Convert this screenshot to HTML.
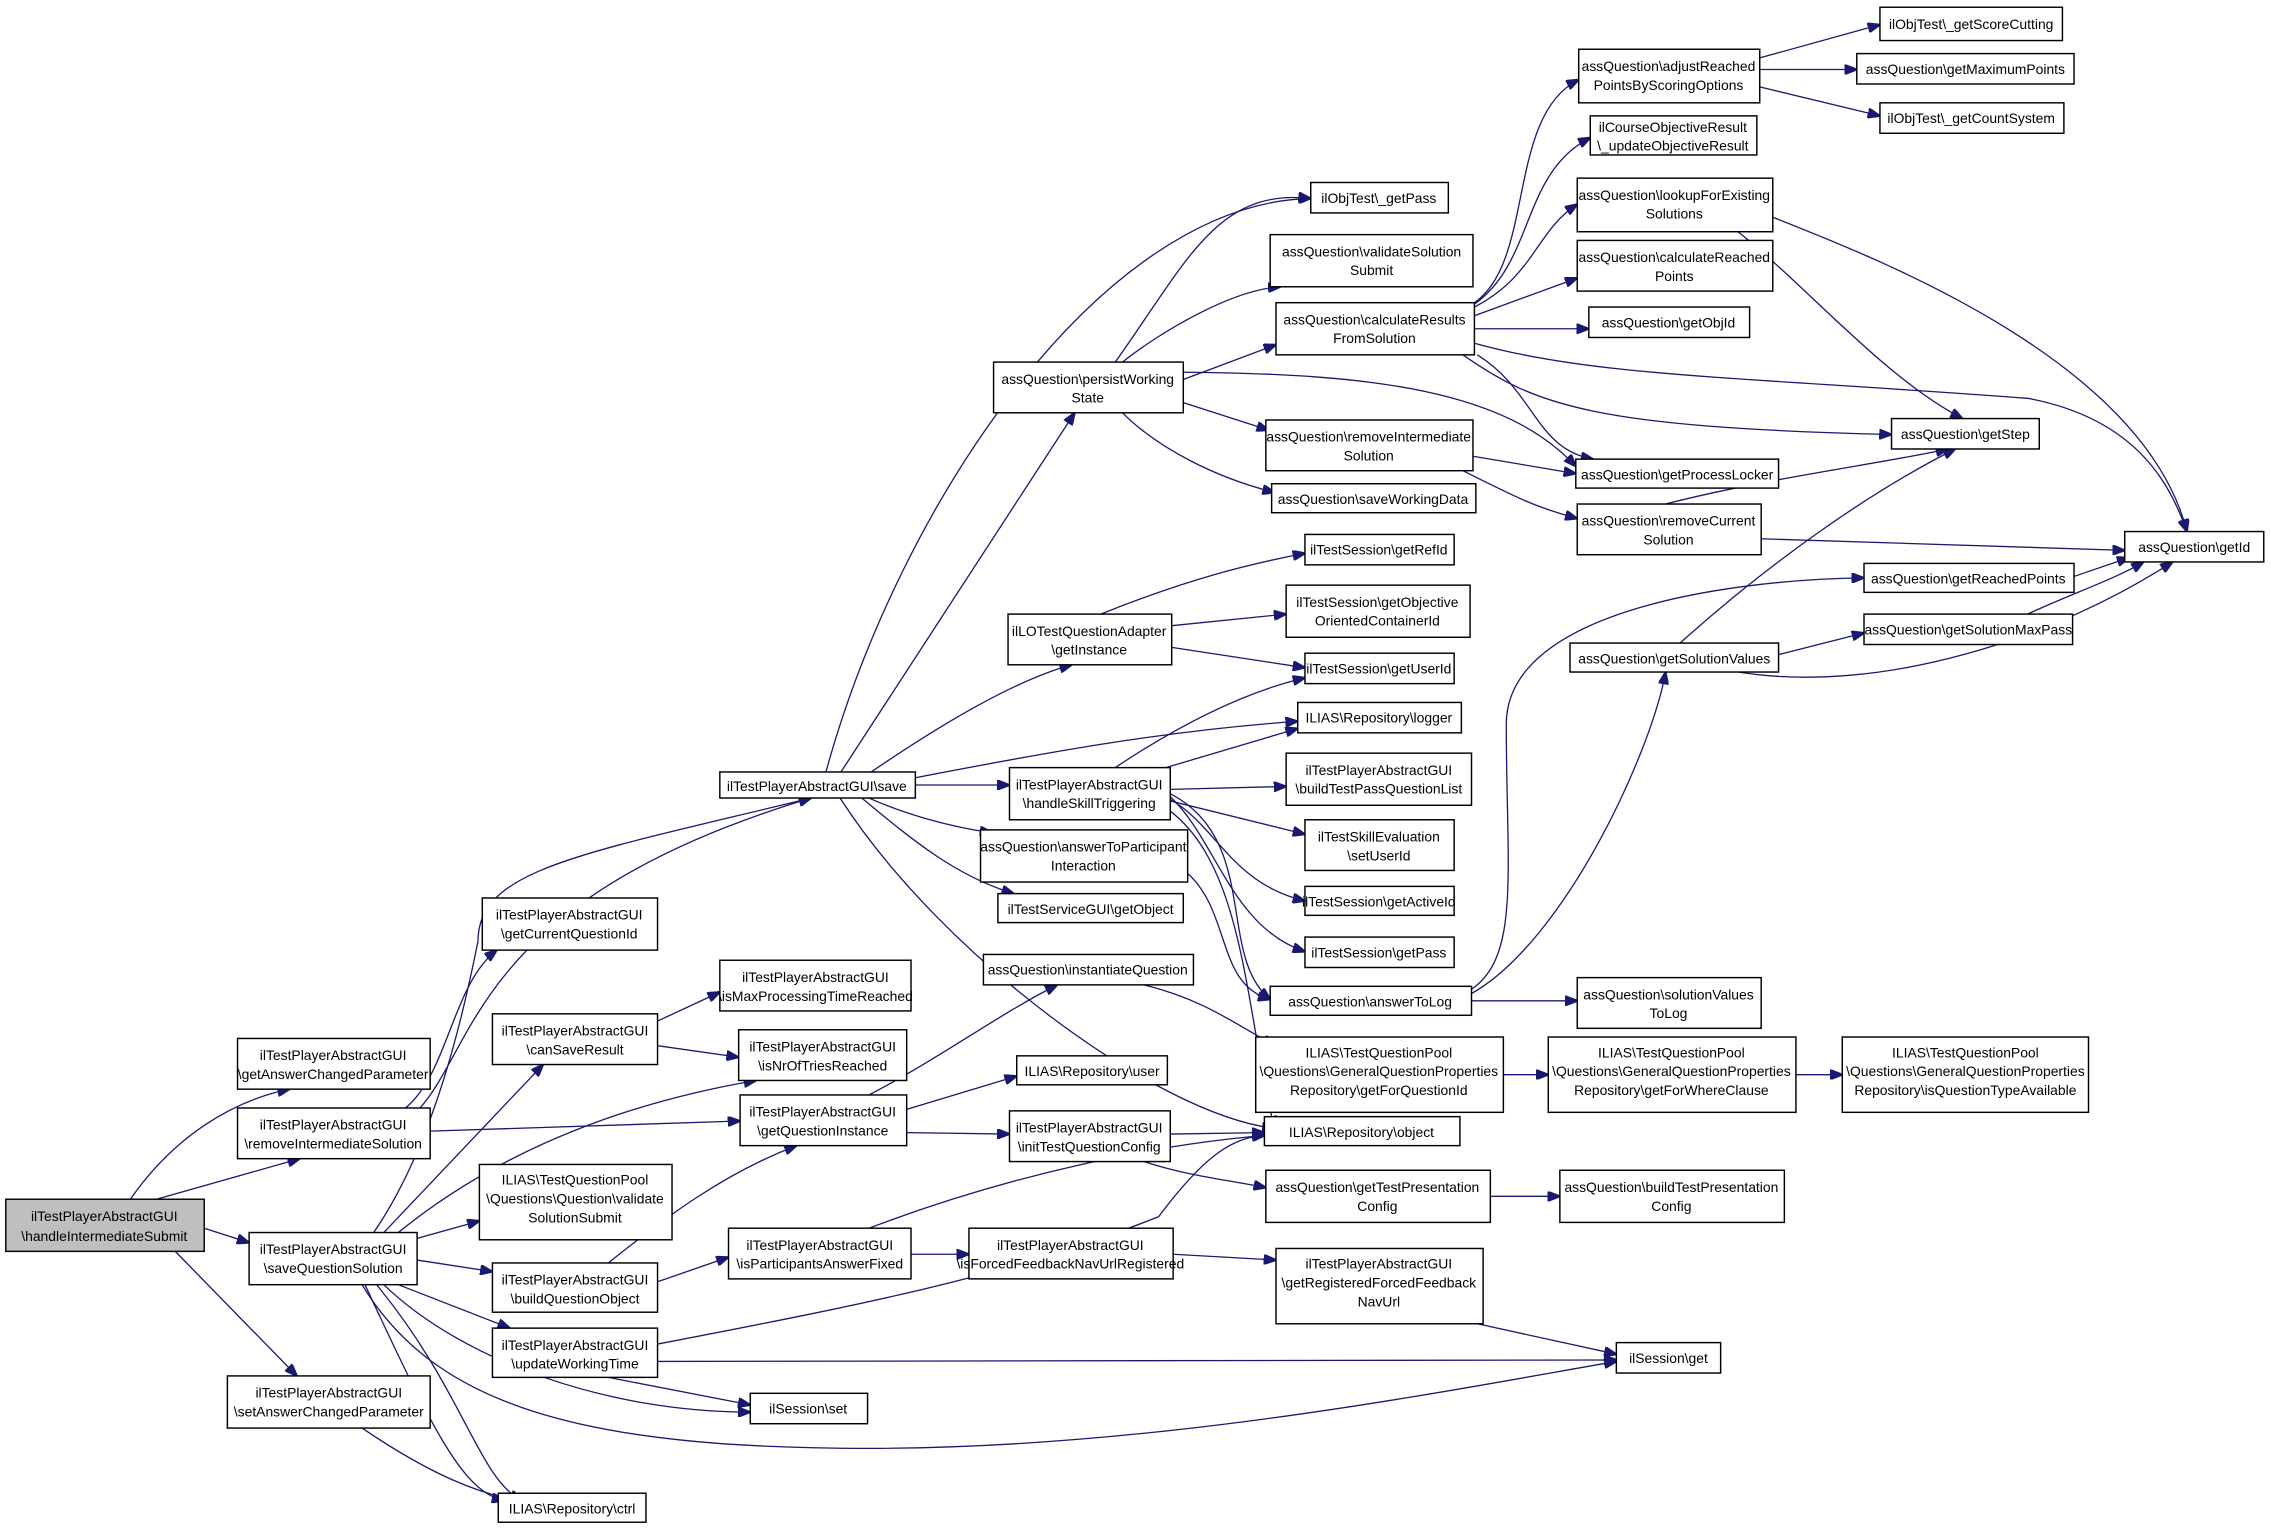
<!DOCTYPE html>
<html><head><meta charset="utf-8"><style>
html,body{margin:0;padding:0;background:#fff;}
svg{display:block;}
text{font-family:"Liberation Sans",sans-serif;font-size:9.6px;fill:#000;text-anchor:middle;}
rect{fill:#fff;stroke:#000;stroke-width:1;}
path{fill:none;stroke:#191970;stroke-width:0.9;}
</style></head><body>
<svg width="2271" height="1528" viewBox="0 0 1568 1055" preserveAspectRatio="none" xmlns="http://www.w3.org/2000/svg">
<defs><marker id="a" markerWidth="9" markerHeight="7" refX="8.5" refY="3.5" orient="auto" markerUnits="userSpaceOnUse"><polygon points="0,0 9,3.5 0,7" fill="#191970" stroke="#191970"/></marker></defs>
<g marker-end="url(#a)">
<!-- from handleIntermediateSubmit -->
<path d="M90,828 C120,785 160,760 200,752"/>
<path d="M108,828 L207,800"/>
<path d="M141,848 L172,858"/>
<path d="M121,864 L205,950"/>
<!-- removeIntermediateSolution -->
<path d="M280,765 C310,740 312,680 343,656"/>
<path d="M297,781 L511,774"/>
<path d="M290,765 C330,720 330,620 560,551"/>
<!-- saveQuestionSolution -->
<path d="M258,851 C300,790 320,700 330,650 C330,600 400,590 560,551"/>
<path d="M265,851 L375,735"/>
<path d="M275,851 C350,790 440,760 522,746"/>
<path d="M288,855 L331,843"/>
<path d="M288,870 L340,878"/>
<path d="M275,887 L352,917"/>
<path d="M265,887 C320,940 420,975 518,975"/>
<path d="M260,887 C320,960 330,1020 360,1036"/>
<path d="M252,887 C300,990 320,1030 348,1036"/>
<path d="M250,887 C300,970 400,1000 600,1000 C800,1000 1000,960 1116,940"/>
<!-- setAnswerChangedParameter -->
<path d="M250,986 C300,1020 330,1030 355,1036"/>
<!-- canSaveResult -->
<path d="M454,705 L497,685"/>
<path d="M454,722 L510,730"/>
<!-- buildQuestionObject -->
<path d="M420,872 C460,840 500,810 550,791"/>
<path d="M454,885 L503,868"/>
<!-- updateWorkingTime -->
<path d="M420,951 L518,970"/>
<path d="M454,940 L1116,939"/>
<path d="M454,928 C600,900 700,880 800,840 C830,800 850,785 873,784"/>
<!-- getQuestionInstance -->
<path d="M600,756 C650,730 690,700 730,680"/>
<path d="M626,766 L702,743"/>
<path d="M626,782 L697,783"/>
<!-- isParticipantsAnswerFixed -->
<path d="M600,848 C700,810 800,790 873,784"/>
<path d="M629,866 L669,866"/>
<path d="M810,866 L881,870"/>
<path d="M1020,914 L1116,935"/>
<!-- initTestQuestionConfig -->
<path d="M808,783 L873,782"/>
<path d="M790,802 C820,812 850,815 874,820"/>
<path d="M1029,826 L1077,826"/>
<!-- instantiateQuestion -->
<path d="M790,680 C830,690 850,705 880,722"/>
<path d="M1038,742 L1069,742"/>
<path d="M1240,742 L1272,742"/>
<!-- save -->
<path d="M570,534 C620,350 760,140 905,137"/>
<path d="M580,534 L742,285"/>
<path d="M600,534 C650,500 700,470 740,459"/>
<path d="M632,537 C720,520 800,505 896,498"/>
<path d="M632,542 L697,542"/>
<path d="M600,551 C620,560 650,570 685,575"/>
<path d="M595,551 C630,580 660,605 700,617"/>
<path d="M580,551 C650,660 800,770 880,779"/>
<!-- persistWorkingState -->
<path d="M770,250 C820,180 840,130 905,137"/>
<path d="M775,250 C800,230 850,200 884,198"/>
<path d="M817,262 L881,238"/>
<path d="M817,278 L876,297"/>
<path d="M775,285 C800,310 840,330 880,340"/>
<path d="M817,257 C950,258 1040,270 1088,322"/>
<!-- ilLOTestQuestionAdapter -->
<path d="M760,424 C820,400 860,390 901,382"/>
<path d="M809,432 L888,424"/>
<path d="M809,447 L901,461"/>
<!-- handleSkillTriggering -->
<path d="M770,530 C800,510 850,480 901,468"/>
<path d="M805,530 L896,503"/>
<path d="M808,545 L888,543"/>
<path d="M808,553 L901,576"/>
<path d="M808,552 C840,570 850,610 901,622"/>
<path d="M808,550 C840,580 850,640 901,657"/>
<path d="M808,548 C870,580 840,660 877,690"/>
<path d="M808,560 C860,600 860,700 880,779"/>
<!-- answerToParticipantInteraction -->
<path d="M820,603 C850,630 840,680 877,690"/>
<!-- answerToLog -->
<path d="M1016,691 L1089,691"/>
<path d="M1016,686 C1080,650 1140,520 1150,464"/>
<path d="M1016,683 C1050,660 1040,600 1040,500 C1040,420 1200,400 1287,399"/>
<!-- calculateResultsFromSolution -->
<path d="M1018,209 C1060,180 1040,80 1090,55"/>
<path d="M1018,210 C1060,180 1050,120 1098,95"/>
<path d="M1018,212 C1060,190 1060,160 1089,141"/>
<path d="M1018,218 L1089,192"/>
<path d="M1018,227 L1097,227"/>
<path d="M1018,237 C1100,260 1200,260 1400,275 C1480,290 1500,340 1510,367"/>
<path d="M1010,245 C1060,280 1100,295 1306,300"/>
<path d="M1020,245 C1060,270 1060,310 1100,317"/>
<!-- adjust -->
<path d="M1215,40 L1298,17"/>
<path d="M1215,48 L1282,48"/>
<path d="M1215,60 L1298,80"/>
<!-- lookup -->
<path d="M1224,150 C1300,180 1480,250 1510,367"/>
<path d="M1200,160 C1250,200 1300,260 1355,289"/>
<!-- removeIntermediateSolution (aq) -->
<path d="M1017,315 L1088,327"/>
<path d="M1010,325 C1050,345 1060,350 1089,358"/>
<!-- removeCurrentSolution -->
<path d="M1150,348 C1220,330 1300,320 1345,310"/>
<path d="M1216,372 L1467,380"/>
<!-- getSolutionValues -->
<path d="M1160,444 C1220,390 1290,340 1350,310"/>
<path d="M1228,452 L1287,437"/>
<path d="M1200,464 C1300,480 1420,440 1500,388"/>
<path d="M1432,398 L1470,385"/>
<path d="M1400,424 C1430,410 1460,400 1480,388"/>
</g>
<!-- nodes -->
<rect x="4" y="828" width="137" height="36" style="fill:#bfbfbf"/><text x="72" y="843">ilTestPlayerAbstractGUI</text><text x="72" y="857">\handleIntermediateSubmit</text>
<rect x="164" y="717" width="133" height="35"/><text x="230" y="732">ilTestPlayerAbstractGUI</text><text x="230" y="745">\getAnswerChangedParameter</text>
<rect x="164" y="765" width="133" height="35"/><text x="230" y="780">ilTestPlayerAbstractGUI</text><text x="230" y="793">\removeIntermediateSolution</text>
<rect x="172" y="851" width="116" height="36"/><text x="230" y="866">ilTestPlayerAbstractGUI</text><text x="230" y="879">\saveQuestionSolution</text>
<rect x="157" y="950" width="140" height="36"/><text x="227" y="965">ilTestPlayerAbstractGUI</text><text x="227" y="978">\setAnswerChangedParameter</text>
<rect x="344" y="1031" width="102" height="20"/><text x="395" y="1045">ILIAS\Repository\ctrl</text>
<rect x="333" y="620" width="121" height="36"/><text x="393" y="635">ilTestPlayerAbstractGUI</text><text x="393" y="648">\getCurrentQuestionId</text>
<rect x="340" y="700" width="114" height="35"/><text x="397" y="715">ilTestPlayerAbstractGUI</text><text x="397" y="728">\canSaveResult</text>
<rect x="331" y="804" width="133" height="52"/><text x="397" y="818">ILIAS\TestQuestionPool</text><text x="397" y="831">\Questions\Question\validate</text><text x="397" y="844">SolutionSubmit</text>
<rect x="340" y="872" width="114" height="34"/><text x="397" y="887">ilTestPlayerAbstractGUI</text><text x="397" y="900">\buildQuestionObject</text>
<rect x="340" y="917" width="114" height="34"/><text x="397" y="932">ilTestPlayerAbstractGUI</text><text x="397" y="945">\updateWorkingTime</text>
<rect x="518" y="962" width="81" height="21"/><text x="558" y="976">ilSession\set</text>
<rect x="497" y="663" width="132" height="35"/><text x="563" y="678">ilTestPlayerAbstractGUI</text><text x="563" y="691">\isMaxProcessingTimeReached</text>
<rect x="510" y="711" width="116" height="35"/><text x="568" y="726">ilTestPlayerAbstractGUI</text><text x="568" y="739">\isNrOfTriesReached</text>
<rect x="511" y="756" width="115" height="35"/><text x="568" y="771">ilTestPlayerAbstractGUI</text><text x="568" y="784">\getQuestionInstance</text>
<rect x="503" y="848" width="126" height="35"/><text x="566" y="863">ilTestPlayerAbstractGUI</text><text x="566" y="876">\isParticipantsAnswerFixed</text>
<rect x="497" y="533" width="135" height="18"/><text x="564" y="546">ilTestPlayerAbstractGUI\save</text>
<rect x="686" y="250" width="131" height="35"/><text x="751" y="265">assQuestion\persistWorking</text><text x="751" y="278">State</text>
<rect x="696" y="424" width="113" height="35"/><text x="752" y="439">ilLOTestQuestionAdapter</text><text x="752" y="452">\getInstance</text>
<rect x="697" y="530" width="111" height="36"/><text x="752" y="545">ilTestPlayerAbstractGUI</text><text x="752" y="558">\handleSkillTriggering</text>
<rect x="677" y="573" width="143" height="36"/><text x="748" y="588">assQuestion\answerToParticipant</text><text x="748" y="601">Interaction</text>
<rect x="689" y="617" width="128" height="20"/><text x="753" y="631">ilTestServiceGUI\getObject</text>
<rect x="679" y="659" width="145" height="21"/><text x="751" y="673">assQuestion\instantiateQuestion</text>
<rect x="702" y="729" width="104" height="20"/><text x="754" y="743">ILIAS\Repository\user</text>
<rect x="697" y="767" width="111" height="35"/><text x="752" y="782">ilTestPlayerAbstractGUI</text><text x="752" y="795">\initTestQuestionConfig</text>
<rect x="669" y="848" width="141" height="35"/><text x="739" y="863">ilTestPlayerAbstractGUI</text><text x="739" y="876">\isForcedFeedbackNavUrlRegistered</text>
<rect x="905" y="126" width="95" height="21"/><text x="952" y="140">ilObjTest\_getPass</text>
<rect x="877" y="162" width="140" height="36"/><text x="947" y="177">assQuestion\validateSolution</text><text x="947" y="190">Submit</text>
<rect x="881" y="209" width="137" height="36"/><text x="949" y="224">assQuestion\calculateResults</text><text x="949" y="237">FromSolution</text>
<rect x="874" y="290" width="143" height="35"/><text x="945" y="305">assQuestion\removeIntermediate</text><text x="945" y="318">Solution</text>
<rect x="878" y="334" width="141" height="20"/><text x="948" y="348">assQuestion\saveWorkingData</text>
<rect x="901" y="369" width="103" height="21"/><text x="952" y="383">ilTestSession\getRefId</text>
<rect x="888" y="404" width="127" height="36"/><text x="951" y="419">ilTestSession\getObjective</text><text x="951" y="432">OrientedContainerId</text>
<rect x="901" y="451" width="103" height="21"/><text x="952" y="465">ilTestSession\getUserId</text>
<rect x="896" y="485" width="113" height="21"/><text x="952" y="499">ILIAS\Repository\logger</text>
<rect x="888" y="520" width="128" height="36"/><text x="952" y="535">ilTestPlayerAbstractGUI</text><text x="952" y="548">\buildTestPassQuestionList</text>
<rect x="901" y="566" width="103" height="35"/><text x="952" y="581">ilTestSkillEvaluation</text><text x="952" y="594">\setUserId</text>
<rect x="901" y="612" width="103" height="20"/><text x="952" y="626">ilTestSession\getActiveId</text>
<rect x="901" y="647" width="103" height="21"/><text x="952" y="661">ilTestSession\getPass</text>
<rect x="877" y="681" width="139" height="20"/><text x="946" y="695">assQuestion\answerToLog</text>
<rect x="867" y="716" width="171" height="52"/><text x="952" y="730">ILIAS\TestQuestionPool</text><text x="952" y="743">\Questions\GeneralQuestionProperties</text><text x="952" y="756">Repository\getForQuestionId</text>
<rect x="873" y="771" width="135" height="20"/><text x="940" y="785">ILIAS\Repository\object</text>
<rect x="874" y="808" width="155" height="36"/><text x="951" y="823">assQuestion\getTestPresentation</text><text x="951" y="836">Config</text>
<rect x="881" y="862" width="143" height="52"/><text x="952" y="876">ilTestPlayerAbstractGUI</text><text x="952" y="889">\getRegisteredForcedFeedback</text><text x="952" y="902">NavUrl</text>
<rect x="1090" y="34" width="125" height="37"/><text x="1152" y="49">assQuestion\adjustReached</text><text x="1152" y="62">PointsByScoringOptions</text>
<rect x="1298" y="5" width="126" height="23"/><text x="1361" y="20">ilObjTest\_getScoreCutting</text>
<rect x="1282" y="37" width="150" height="21"/><text x="1357" y="51">assQuestion\getMaximumPoints</text>
<rect x="1298" y="71" width="127" height="21"/><text x="1361" y="85">ilObjTest\_getCountSystem</text>
<rect x="1098" y="80" width="115" height="27"/><text x="1155" y="91">ilCourseObjectiveResult</text><text x="1155" y="104">\_updateObjectiveResult</text>
<rect x="1089" y="123" width="135" height="37"/><text x="1156" y="138">assQuestion\lookupForExisting</text><text x="1156" y="151">Solutions</text>
<rect x="1089" y="166" width="135" height="35"/><text x="1156" y="181">assQuestion\calculateReached</text><text x="1156" y="194">Points</text>
<rect x="1097" y="212" width="111" height="21"/><text x="1152" y="226">assQuestion\getObjId</text>
<rect x="1306" y="289" width="102" height="21"/><text x="1357" y="303">assQuestion\getStep</text>
<rect x="1088" y="317" width="140" height="20"/><text x="1158" y="331">assQuestion\getProcessLocker</text>
<rect x="1089" y="348" width="127" height="35"/><text x="1152" y="363">assQuestion\removeCurrent</text><text x="1152" y="376">Solution</text>
<rect x="1467" y="367" width="96" height="21"/><text x="1515" y="381">assQuestion\getId</text>
<rect x="1287" y="389" width="145" height="20"/><text x="1359" y="403">assQuestion\getReachedPoints</text>
<rect x="1287" y="424" width="144" height="21"/><text x="1359" y="438">assQuestion\getSolutionMaxPass</text>
<rect x="1084" y="444" width="144" height="20"/><text x="1156" y="458">assQuestion\getSolutionValues</text>
<rect x="1089" y="675" width="127" height="35"/><text x="1152" y="690">assQuestion\solutionValues</text><text x="1152" y="703">ToLog</text>
<rect x="1069" y="716" width="171" height="52"/><text x="1154" y="730">ILIAS\TestQuestionPool</text><text x="1154" y="743">\Questions\GeneralQuestionProperties</text><text x="1154" y="756">Repository\getForWhereClause</text>
<rect x="1272" y="716" width="170" height="52"/><text x="1357" y="730">ILIAS\TestQuestionPool</text><text x="1357" y="743">\Questions\GeneralQuestionProperties</text><text x="1357" y="756">Repository\isQuestionTypeAvailable</text>
<rect x="1077" y="808" width="155" height="36"/><text x="1154" y="823">assQuestion\buildTestPresentation</text><text x="1154" y="836">Config</text>
<rect x="1116" y="927" width="72" height="21"/><text x="1152" y="941">ilSession\get</text>
</svg>
</body></html>
